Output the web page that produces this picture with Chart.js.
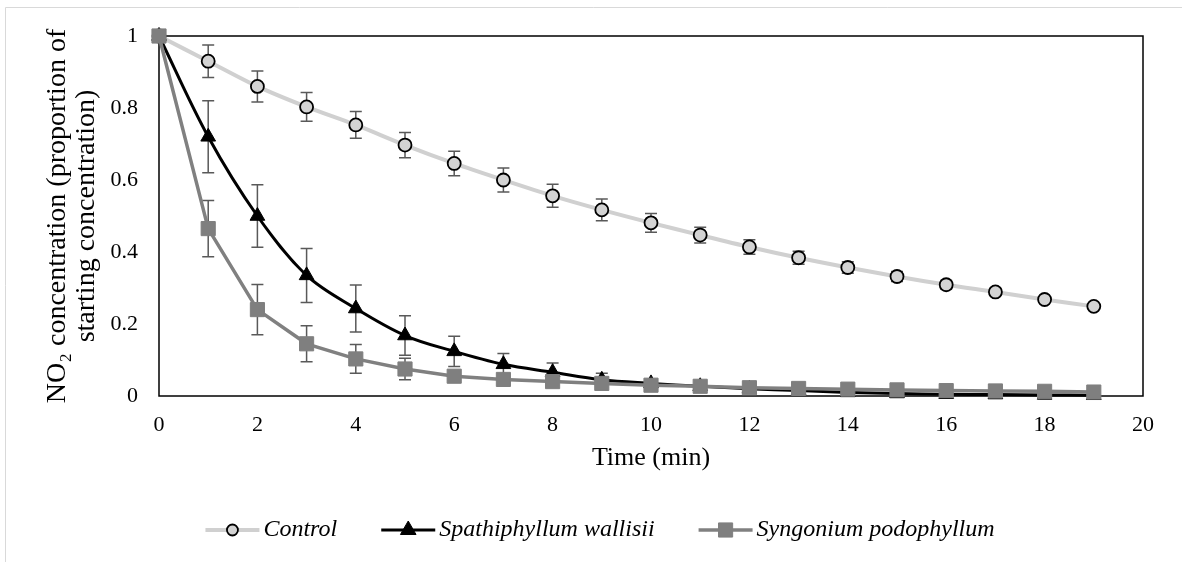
<!DOCTYPE html>
<html>
<head>
<meta charset="utf-8">
<script src="https://cdn.jsdelivr.net/npm/chart.js@4/dist/chart.umd.min.js"></script>
<style>
  html, body { margin: 0; padding: 0; background: #fff; }
  #wrap { width: 1182px; height: 562px; position: relative; }
</style>
</head>
<body>
<div id="wrap"><canvas id="no2Chart" width="1182" height="562"></canvas></div>
<script>
// Tiempo de muestreo (min)
const times = [0, 1, 2, 3, 4, 5, 6, 7, 8, 9, 10, 11, 12, 13, 14, 15, 16, 17, 18, 19];

const seriesNames = ['Control', 'Spathiphyllum wallisii', 'Syngonium podophyllum'];

// Proporción de la concentración inicial
const controlValues = [1, 0.93, 0.86, 0.803, 0.753, 0.697, 0.646, 0.6, 0.556, 0.517, 0.481, 0.447, 0.414, 0.384, 0.357, 0.332, 0.309, 0.289, 0.268, 0.249];
const spathValues = [1, 0.72, 0.5, 0.335, 0.243, 0.168, 0.124, 0.088, 0.066, 0.045, 0.035, 0.027, 0.02, 0.015, 0.01, 0.007, 0.005, 0.004, 0.003, 0.002];
const syngValues = [1, 0.465, 0.24, 0.145, 0.103, 0.075, 0.055, 0.046, 0.04, 0.035, 0.03, 0.027, 0.023, 0.021, 0.019, 0.017, 0.015, 0.014, 0.013, 0.011];

// Barras de error (±)
const controlErr = [0, 0.045, 0.043, 0.04, 0.037, 0.035, 0.034, 0.033, 0.032, 0.03, 0.026, 0.022, 0.02, 0.018, 0.016, 0.014, 0.012, 0.01, 0.008, 0.006];
const spathErr = [0, 0.1, 0.087, 0.075, 0.065, 0.055, 0.042, 0.03, 0.026, 0.018, 0.008, 0.005, 0.003, 0.002, 0.002, 0.002, 0.002, 0.002, 0.002, 0.002];
const syngErr = [0, 0.078, 0.07, 0.05, 0.04, 0.03, 0.015, 0.01, 0.008, 0.006, 0.005, 0.004, 0.003, 0.003, 0.003, 0.003, 0.003, 0.002, 0.002, 0.002];

const yTicks = [0, 0.2, 0.4, 0.6, 0.8, 1];

const SERIF = '"Liberation Serif", "Times New Roman", serif';

function toPoints(values) {
    return values.map((v, i) => ({ x: times[i], y: v }));
}

// Marco gris exterior
const outerFrame = {
    id: 'outerFrame',
    beforeDraw(chart) {
        const ctx = chart.ctx;
        ctx.save();
        ctx.strokeStyle = '#d9d9d9';
        ctx.lineWidth = 1;
        ctx.beginPath();
        ctx.moveTo(5.5, 600);
        ctx.lineTo(5.5, 7.5);
        ctx.lineTo(1182, 7.5);
        ctx.stroke();
        ctx.restore();
    }
};

// Caja negra del área de gráfico + barras de error
const plotBox = {
    id: 'plotBox',
    beforeDatasetsDraw(chart) {
        const { ctx, chartArea } = chart;
        ctx.save();
        ctx.strokeStyle = '#000';
        ctx.lineWidth = 1.5;
        ctx.strokeRect(chartArea.left, chartArea.top, chartArea.right - chartArea.left, chartArea.bottom - chartArea.top);

        const xs = chart.scales.x;
        const ys = chart.scales.y;
        ctx.strokeStyle = '#595959';
        ctx.lineWidth = 1.5;
        chart.data.datasets.forEach(ds => {
            if (!ds.errors) return;
            ds.data.forEach((p, i) => {
                const e = ds.errors[i];
                if (!e) return;
                const px = xs.getPixelForValue(p.x);
                const y1 = ys.getPixelForValue(p.y + e);
                const y2 = ys.getPixelForValue(p.y - e);
                ctx.beginPath();
                ctx.moveTo(px, y1);
                ctx.lineTo(px, y2);
                ctx.moveTo(px - 6, y1);
                ctx.lineTo(px + 6, y1);
                ctx.moveTo(px - 6, y2);
                ctx.lineTo(px + 6, y2);
                ctx.stroke();
            });
        });
        ctx.restore();
    }
};

// Leyenda con línea + marcador
const lineLegend = {
    id: 'lineLegend',
    afterDraw(chart) {
        const ctx = chart.ctx;
        const y = 530;
        const lineLen = 54;
        const gap = 44;
        ctx.save();
        ctx.font = 'italic 24px ' + SERIF;
        const items = chart.data.datasets.slice().sort((a, b) => a.legendIndex - b.legendIndex);
        const widths = items.map(ds => lineLen + 4 + ctx.measureText(ds.label).width);
        const total = widths.reduce((a, b) => a + b, 0) + gap * (items.length - 1);
        let x = 600 - total / 2;
        items.forEach((ds, i) => {
            ctx.strokeStyle = ds.borderColor;
            ctx.lineWidth = ds.borderWidth;
            ctx.beginPath();
            ctx.moveTo(x, y);
            ctx.lineTo(x + lineLen, y);
            ctx.stroke();
            // marcador
            ctx.fillStyle = ds.pointBackgroundColor;
            ctx.strokeStyle = ds.pointBorderColor;
            ctx.lineWidth = ds.pointBorderWidth;
            Chart.helpers.drawPoint(ctx, {
                pointStyle: ds.pointStyle,
                radius: ds.legendRadius,
                borderWidth: ds.pointBorderWidth
            }, x + lineLen / 2, y);
            ctx.fillStyle = '#000';
            ctx.textBaseline = 'middle';
            ctx.textAlign = 'left';
            ctx.fillText(ds.label, x + lineLen + 4, y);
            x += widths[i] + gap;
        });
        ctx.restore();
    }
};

new Chart(document.getElementById('no2Chart'), {
    type: 'line',
    data: {
        datasets: [
            {
                label: seriesNames[0],
                data: toPoints(controlValues),
                errors: controlErr,
                legendIndex: 0,
                legendRadius: 5.5,
                order: 2,
                borderColor: '#d0d0d0',
                borderWidth: 4,
                tension: 0.3,
                pointStyle: 'circle',
                pointRadius: 6.5,
                pointBackgroundColor: '#d3d3d3',
                pointBorderColor: '#000',
                pointBorderWidth: 1.8,
                clip: false
            },
            {
                label: seriesNames[1],
                data: toPoints(spathValues),
                errors: spathErr,
                legendIndex: 1,
                legendRadius: 9,
                order: 1,
                borderColor: '#000',
                borderWidth: 3,
                tension: 0.35,
                pointStyle: 'triangle',
                pointRadius: 8.5,
                pointBackgroundColor: '#000',
                pointBorderColor: '#000',
                pointBorderWidth: 1,
                clip: false
            },
            {
                label: seriesNames[2],
                data: toPoints(syngValues),
                errors: syngErr,
                legendIndex: 2,
                legendRadius: 10,
                order: 0,
                borderColor: '#808080',
                borderWidth: 3.5,
                tension: 0,
                pointStyle: 'rect',
                pointRadius: 10,
                pointBackgroundColor: '#7f7f7f',
                pointBorderColor: '#7f7f7f',
                pointBorderWidth: 1,
                clip: false
            }
        ]
    },
    options: {
        responsive: false,
        animation: false,
        layout: {
            padding: { top: 36, right: 39, bottom: 76, left: 0 }
        },
        plugins: {
            legend: { display: false },
            tooltip: { enabled: false }
        },
        scales: {
            x: {
                type: 'linear',
                min: 0,
                max: 20,
                grid: { display: false, drawTicks: false },
                border: { display: false },
                ticks: {
                    stepSize: 2,
                    padding: 16,
                    color: '#000',
                    font: { family: SERIF, size: 22 }
                },
                title: {
                    display: true,
                    text: 'Time (min)',
                    color: '#000',
                    font: { family: SERIF, size: 26, lineHeight: 1.12 },
                    padding: { top: 0, bottom: 13 }
                },
                afterFit(scale) {
                    scale.height = 90;
                    scale.paddingLeft = 0;
                    scale.paddingRight = 0;
                }
            },
            y: {
                min: 0,
                max: 1,
                afterBuildTicks(scale) {
                    scale.ticks = yTicks.map(v => ({ value: v }));
                },
                grid: { display: false, drawTicks: false },
                border: { display: false },
                ticks: {
                    padding: 21,
                    color: '#000',
                    font: { family: SERIF, size: 22 },
                    callback: value => String(value)
                },
                title: {
                    display: true,
                    text: ['NO\u2082 concentration (proportion of', 'starting concentration)'],
                    color: '#000',
                    font: { family: SERIF, size: 28, lineHeight: 1.04 },
                    padding: { top: 43, bottom: 0 }
                },
                afterFit(scale) {
                    scale.width = 159;
                    scale.paddingTop = 0;
                    scale.paddingBottom = 0;
                }
            }
        }
    },
    plugins: [outerFrame, plotBox, lineLegend]
});
</script>
</body>
</html>
